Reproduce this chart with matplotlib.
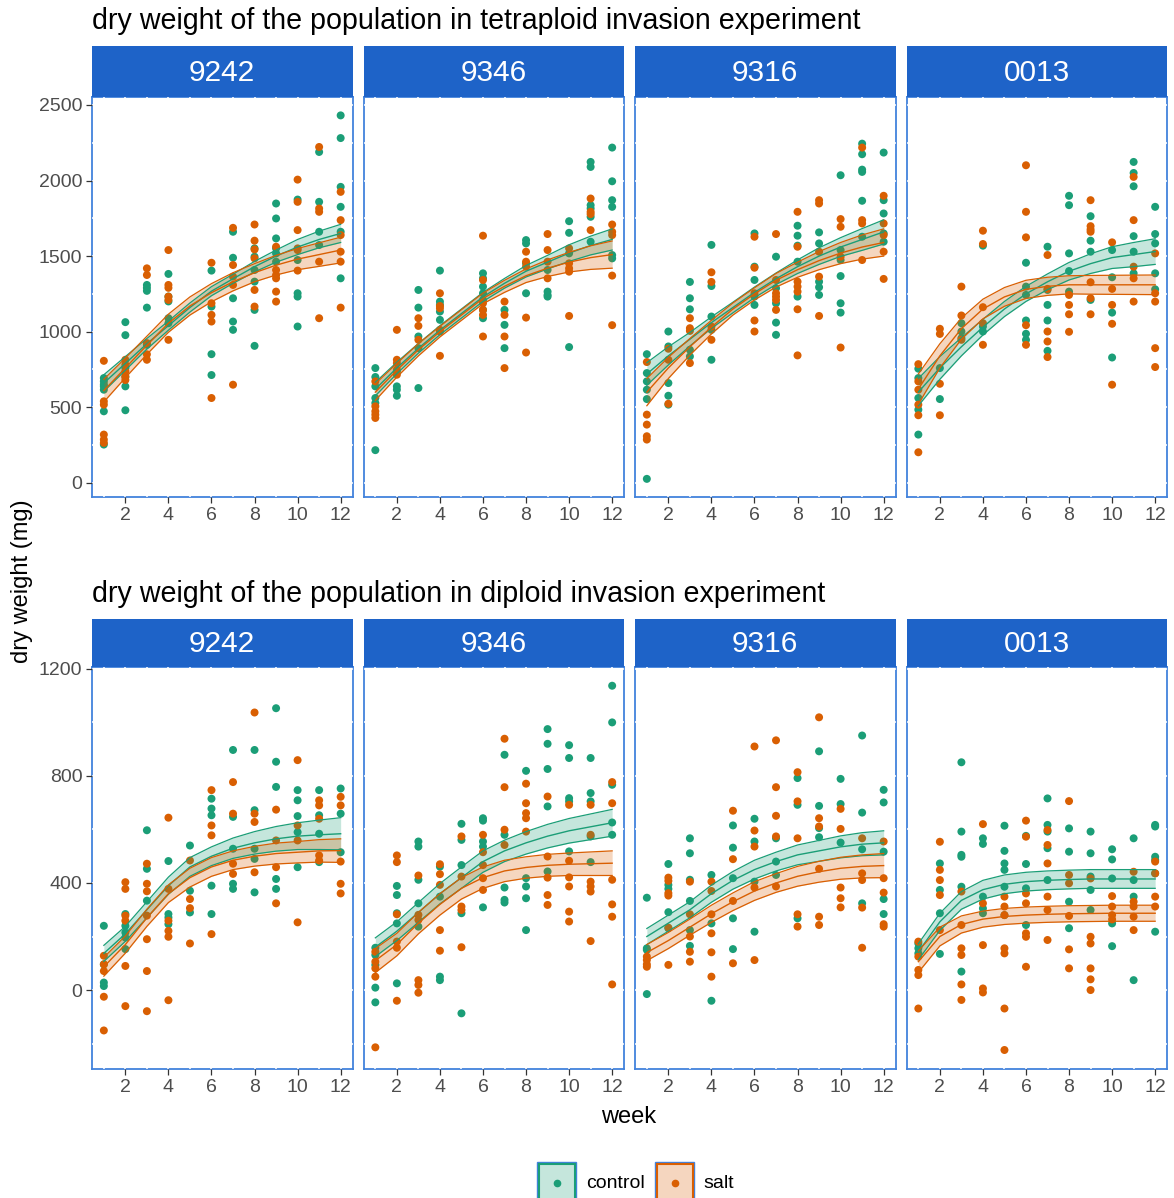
import matplotlib
matplotlib.use('Agg')
import matplotlib.pyplot as plt
from matplotlib.patches import Rectangle
from matplotlib.lines import Line2D
from matplotlib.ticker import FixedLocator

W, H = 1174, 1198
plt.rcParams['font.family'] = ['Liberation Sans', 'DejaVu Sans']

# ---------------- data ----------------
weeks = list(range(1, 13))
genotypes = ['9242', '9346', '9316', '0013']
treatments = ['control', 'salt']
row_titles = ['dry weight of the population in tetraploid invasion experiment',
              'dry weight of the population in diploid invasion experiment']
top_yticks = [0, 500, 1000, 1500, 2000, 2500]
top_yminor = [250, 750, 1250, 1750, 2250]
bot_yticks = [0, 400, 800, 1200]
bot_yminor = [-200, 200, 600, 1000]
xticks = [2, 4, 6, 8, 10, 12]
xminor = [1, 3, 5, 7, 9, 11]

# observed points: one list per week (1..12)
tet_9242_control = [[693, 671, 650, 638, 616, 473, 253], [1063, 977, 760, 700, 638, 480],
                    [1309, 1290, 1270, 1159, 913], [1382, 1232, 1200, 1089, 1056], [],
                    [1404, 1166, 851, 713], [1661, 1489, 1221, 1067, 1012],
                    [1551, 1496, 1408, 1331, 1144, 906], [1848, 1749, 1617, 1551, 1518, 1463],
                    [1874, 1474, 1254, 1232, 1034], [2189, 1859, 1661, 1573],
                    [2431, 2281, 1958, 1826, 1661, 1353]]
tet_9242_salt = [[807, 539, 517, 319, 286, 264], [814, 781, 737, 704, 680],
                 [1419, 1375, 924, 850, 814], [1540, 1309, 1290, 1232, 1210, 946], [],
                 [1456, 1188, 1111, 1067, 561], [1687, 1441, 1364, 1309, 649],
                 [1709, 1602, 1544, 1485, 1276, 1166], [1562, 1408, 1375, 1353, 1265, 1199],
                 [2006, 1859, 1672, 1551, 1540, 1404], [2222, 1815, 1793, 1463, 1089],
                 [1925, 1738, 1639, 1529, 1463, 1159]]
tet_9346_control = [[759, 700, 638, 561, 528, 216], [737, 638, 616, 576],
                    [1276, 1159, 968, 891, 627], [1404, 1199, 1177, 1133, 1078], [],
                    [1386, 1353, 1298, 1254, 1210, 1144, 1089], [1144, 1045, 891],
                    [1606, 1584, 1452, 1254], [1408, 1265, 1243, 1232],
                    [1731, 1654, 1518, 898], [2123, 2090, 1837, 1815, 1760, 1595],
                    [2218, 1995, 1870, 1826, 1507, 1485]]
tet_9346_salt = [[671, 506, 473, 451, 429], [1012, 814, 792, 748, 715],
                 [1089, 1038, 946], [1254, 1170, 1155, 1012, 1001, 840], [],
                 [1635, 1342, 1188, 1144, 1111, 968], [1199, 1111, 968, 759],
                 [1529, 1463, 1430, 1093, 862], [1646, 1540, 1463, 1353],
                 [1551, 1452, 1419, 1397, 1104], [1881, 1793, 1778, 1672],
                 [1709, 1661, 1639, 1371, 1043]]
tet_9316_control = [[851, 726, 671, 616, 554, 26], [1001, 902, 660, 576, 517],
                    [1329, 1221, 1148, 880, 836], [1574, 1302, 1100, 1012, 814], [],
                    [1650, 1430, 1342, 1232, 1177], [1496, 1287, 1188, 1060, 979],
                    [1701, 1635, 1569, 1463, 1232], [1657, 1584, 1331, 1294, 1243],
                    [2035, 1540, 1474, 1368, 1188, 1126], [2244, 2174, 2072, 2057, 1866, 1628],
                    [2185, 1870, 1782, 1650, 1595]]
tet_9316_salt = [[799, 451, 385, 308, 286], [887, 814, 523],
                 [1089, 1023, 1005, 792], [1393, 1329, 1034, 946], [],
                 [1628, 1423, 1254, 1074, 1001], [1646, 1342, 1254, 1232, 1210, 1144],
                 [1793, 1562, 1331, 1298, 1265, 1148, 843], [1870, 1848, 1529, 1364, 1104],
                 [1745, 1694, 1496, 895], [2218, 1738, 1716, 1474],
                 [1899, 1716, 1639, 1529, 1349]]
tet_0013_control = [[755, 693, 561, 484, 319], [759, 554],
                    [1056, 1001, 957], [1569, 1034, 1001], [],
                    [1456, 1298, 1243, 1074, 986, 946], [1562, 1276, 1177, 1074, 873],
                    [1899, 1837, 1518, 1401, 1265], [1764, 1602, 1529, 1210],
                    [1540, 1360, 1126, 829], [2123, 2050, 1962, 1632, 1529, 1386],
                    [1826, 1646, 1584, 1386, 1280]]
tet_0013_salt = [[785, 671, 616, 517, 447, 202], [1019, 985, 655, 447],
                 [1298, 1107, 946], [1668, 1580, 1162, 1056, 913], [],
                 [2101, 1793, 1624, 1043, 913], [1507, 1283, 1001, 935, 832],
                 [1243, 1177, 1115, 999], [1870, 1698, 1676, 1661, 1327, 1221, 1115],
                 [1591, 1283, 1177, 1052, 649], [2024, 1738, 1430, 1353, 1199],
                 [1518, 1254, 1199, 891, 766]]

dip_9242_control = [[240, 96, 28, 15], [284, 240, 215, 196, 153], [597, 453, 334],
                    [482, 284, 271, 246], [540, 371, 290], [715, 678, 653, 390, 284],
                    [897, 647, 528, 397, 378], [897, 672, 528, 490, 365],
                    [1053, 853, 759, 415, 378], [747, 709, 650, 590, 459],
                    [747, 653, 584, 478], [753, 659, 515]]
dip_9242_salt = [[128, 96, 71, -25, -151], [403, 378, 278, 259, 90, -60],
                 [472, 397, 369, 278, 190, 71, -79], [644, 378, 259, 221, 199, -38],
                 [484, 340, 306, 174], [747, 615, 578, 209], [777, 659, 472, 434],
                 [1037, 659, 628, 440], [674, 559, 459, 324], [859, 615, 559, 253],
                 [709, 690, 640, 503, 484], [722, 690, 480, 397, 361]]
dip_9346_control = [[158, 131, 94, 9, -46], [389, 355, 287, 249, 25],
                    [555, 536, 412, 324, 237], [461, 349, 50, 37],
                    [621, 561, 467, 287, -87], [642, 633, 555, 536, 309],
                    [879, 580, 383, 337, 327], [819, 418, 387, 343, 224],
                    [975, 920, 826, 686, 443], [915, 867, 717, 705, 518],
                    [867, 736, 705, 574, 478], [1137, 1000, 767, 626, 580]]
dip_9346_salt = [[143, 106, 81, 50, -214], [503, 478, 283, 181, 158, -40],
                 [428, 281, 262, 37, 19, -10], [470, 433, 393, 224, 147],
                 [574, 424, 312, 299, 160], [580, 515, 467, 418, 374],
                 [939, 758, 599, 542], [771, 698, 661, 642, 592],
                 [723, 499, 420, 355, 318], [692, 483, 421, 387, 293, 256],
                 [692, 580, 405, 387, 368, 183], [777, 698, 412, 320, 274, 21]]
dip_9316_control = [[345, 156, 150, -15], [471, 393, 378, 291, 231],
                    [567, 511, 412, 333, 224, 165], [430, 249, -40],
                    [615, 532, 418, 268, 153], [640, 555, 405, 218],
                    [567, 480, 430], [792, 692, 268], [892, 688, 605, 571],
                    [789, 695, 551], [951, 663, 526, 324], [748, 701, 517, 340, 284]]
dip_9316_salt = [[125, 112, 96, 87], [420, 408, 362, 353, 233, 94],
                 [405, 283, 200, 143, 106], [405, 370, 283, 212, 141, 50],
                 [670, 489, 333, 100], [910, 596, 536, 383, 112],
                 [933, 758, 651, 574, 387], [814, 705, 567, 283, 237],
                 [1019, 642, 611, 453, 274, 243], [677, 602, 383, 343, 309],
                 [567, 436, 411, 308, 158], [555, 418, 364, 246, 237]]
dip_0013_control = [[174, 156, 137], [473, 374, 287, 135],
                    [851, 592, 505, 498, 386, 69], [567, 546, 349, 305, 287],
                    [614, 520, 473, 449, 386, 280], [576, 471, 380, 243],
                    [716, 617, 592, 530, 411], [604, 517, 330, 231],
                    [592, 511, 424, 374, 299], [526, 488, 417, 249, 164],
                    [567, 411, 349, 37], [617, 611, 498, 486, 436, 218]]
dip_0013_salt = [[181, 125, 75, 56, -69], [554, 449, 411, 355, 224],
                 [368, 243, 156, 131, 21, -37], [620, 324, 168, 6, -9],
                 [349, 312, 280, 156, 137, -69, -224], [633, 573, 361, 324, 212, 199, 87],
                 [598, 542, 473, 349, 299, 187], [706, 430, 399, 277, 152, 81],
                 [417, 199, 174, 81, 40, 0], [351, 312, 280, 264],
                 [442, 330, 312, 274, 224], [480, 436, 349, 312]]

# fitted curves (value at each week) and confidence half-widths
tet_9242_control_fit = [660, 790, 920, 1040, 1160, 1268, 1350, 1430, 1500, 1560, 1610, 1650]
tet_9242_control_hw = [55, 45, 35, 30, 30, 30, 30, 35, 40, 50, 55, 60]
tet_9242_salt_fit = [610, 760, 910, 1056, 1170, 1258, 1330, 1390, 1440, 1480, 1510, 1540]
tet_9242_salt_hw = [75, 65, 60, 60, 60, 60, 60, 60, 65, 70, 78, 85]
tet_9346_control_fit = [620, 760, 890, 1010, 1120, 1230, 1320, 1400, 1460, 1520, 1570, 1610]
tet_9346_control_hw = [45, 38, 32, 30, 30, 30, 32, 38, 45, 55, 62, 70]
tet_9346_salt_fit = [600, 745, 880, 1000, 1110, 1220, 1300, 1370, 1420, 1460, 1490, 1510]
tet_9346_salt_hw = [55, 45, 40, 35, 35, 35, 40, 45, 55, 65, 78, 90]
tet_9316_control_fit = [720, 840, 950, 1060, 1160, 1260, 1350, 1430, 1500, 1560, 1610, 1660]
tet_9316_control_hw = [75, 60, 45, 38, 35, 35, 38, 45, 55, 62, 72, 80]
tet_9316_salt_fit = [600, 760, 900, 1030, 1150, 1250, 1340, 1410, 1470, 1520, 1560, 1590]
tet_9316_salt_hw = [90, 70, 55, 45, 40, 40, 45, 50, 60, 70, 80, 90]
tet_0013_control_fit = [600, 760, 900, 1030, 1150, 1250, 1330, 1400, 1450, 1490, 1510, 1530]
tet_0013_control_hw = [90, 75, 60, 52, 50, 50, 52, 58, 65, 72, 80, 85]
tet_0013_salt_fit = [620, 840, 1020, 1150, 1230, 1280, 1300, 1310, 1310, 1310, 1310, 1310]
tet_0013_salt_hw = [100, 80, 70, 65, 62, 60, 60, 60, 62, 63, 64, 65]

dip_9242_control_fit = [137, 210, 300, 390, 460, 500, 530, 550, 565, 575, 580, 584]
dip_9242_control_hw = [30, 28, 30, 32, 35, 35, 38, 42, 46, 50, 55, 60]
dip_9242_salt_fit = [87, 170, 270, 360, 420, 460, 485, 500, 510, 515, 520, 521]
dip_9242_salt_hw = [35, 32, 32, 33, 35, 35, 35, 37, 39, 40, 42, 44]
dip_9346_control_fit = [160, 220, 290, 360, 420, 480, 520, 550, 575, 595, 610, 625]
dip_9346_control_hw = [35, 35, 37, 38, 40, 40, 40, 42, 44, 46, 48, 50]
dip_9346_salt_fit = [110, 170, 250, 320, 380, 420, 445, 458, 466, 470, 472, 474]
dip_9346_salt_hw = [45, 42, 40, 40, 40, 40, 40, 40, 41, 42, 44, 46]
dip_9316_control_fit = [200, 250, 300, 360, 410, 450, 480, 505, 520, 535, 545, 550]
dip_9316_control_hw = [30, 30, 30, 32, 33, 35, 35, 37, 39, 41, 43, 45]
dip_9316_salt_fit = [140, 185, 235, 285, 330, 370, 400, 425, 442, 455, 462, 465]
dip_9316_salt_hw = [30, 30, 30, 32, 33, 35, 35, 37, 39, 41, 43, 45]
dip_0013_control_fit = [143, 255, 335, 375, 395, 405, 410, 413, 415, 415, 415, 415]
dip_0013_control_hw = [30, 32, 33, 35, 35, 35, 35, 35, 35, 35, 35, 35]
dip_0013_salt_fit = [106, 200, 245, 265, 275, 280, 283, 285, 286, 287, 287, 287]
dip_0013_salt_hw = [40, 35, 32, 30, 30, 30, 30, 30, 30, 30, 30, 30]

points = {
    ('tet', '9242', 'control'): tet_9242_control, ('tet', '9242', 'salt'): tet_9242_salt,
    ('tet', '9346', 'control'): tet_9346_control, ('tet', '9346', 'salt'): tet_9346_salt,
    ('tet', '9316', 'control'): tet_9316_control, ('tet', '9316', 'salt'): tet_9316_salt,
    ('tet', '0013', 'control'): tet_0013_control, ('tet', '0013', 'salt'): tet_0013_salt,
    ('dip', '9242', 'control'): dip_9242_control, ('dip', '9242', 'salt'): dip_9242_salt,
    ('dip', '9346', 'control'): dip_9346_control, ('dip', '9346', 'salt'): dip_9346_salt,
    ('dip', '9316', 'control'): dip_9316_control, ('dip', '9316', 'salt'): dip_9316_salt,
    ('dip', '0013', 'control'): dip_0013_control, ('dip', '0013', 'salt'): dip_0013_salt,
}
fits = {
    ('tet', '9242', 'control'): (tet_9242_control_fit, tet_9242_control_hw),
    ('tet', '9242', 'salt'): (tet_9242_salt_fit, tet_9242_salt_hw),
    ('tet', '9346', 'control'): (tet_9346_control_fit, tet_9346_control_hw),
    ('tet', '9346', 'salt'): (tet_9346_salt_fit, tet_9346_salt_hw),
    ('tet', '9316', 'control'): (tet_9316_control_fit, tet_9316_control_hw),
    ('tet', '9316', 'salt'): (tet_9316_salt_fit, tet_9316_salt_hw),
    ('tet', '0013', 'control'): (tet_0013_control_fit, tet_0013_control_hw),
    ('tet', '0013', 'salt'): (tet_0013_salt_fit, tet_0013_salt_hw),
    ('dip', '9242', 'control'): (dip_9242_control_fit, dip_9242_control_hw),
    ('dip', '9242', 'salt'): (dip_9242_salt_fit, dip_9242_salt_hw),
    ('dip', '9346', 'control'): (dip_9346_control_fit, dip_9346_control_hw),
    ('dip', '9346', 'salt'): (dip_9346_salt_fit, dip_9346_salt_hw),
    ('dip', '9316', 'control'): (dip_9316_control_fit, dip_9316_control_hw),
    ('dip', '9316', 'salt'): (dip_9316_salt_fit, dip_9316_salt_hw),
    ('dip', '0013', 'control'): (dip_0013_control_fit, dip_0013_control_hw),
    ('dip', '0013', 'salt'): (dip_0013_salt_fit, dip_0013_salt_hw),
}

# ---------------- style ----------------
colors = {'control': '#1B9E77', 'salt': '#D95F02'}
strip_color = '#1E63C8'
border_color = '#4282DC'
tick_label_color = '#4D4D4D'


def rect(x, y, w, h):
    return [x / W, 1 - (y + h) / H, w / W, h / H]


fig = plt.figure(figsize=(W / 100, H / 100), dpi=100)
fig.patch.set_facecolor('white')

panel_x = [92, 363.5, 635, 906.5]
panel_w = 260.5
rows = [
    dict(key='tet', ax_y=96.5, ax_h=400.5, strip_y=45.5, title_y=21,
         ylim=(-94, 2556), yt=top_yticks, ym=top_yminor),
    dict(key='dip', ax_y=667, ax_h=402, strip_y=618.5, title_y=594,
         ylim=(-295, 1207), yt=bot_yticks, ym=bot_yminor),
]

for ri, row in enumerate(rows):
    fig.text(92 / W, 1 - row['title_y'] / H, row_titles[ri], ha='left', va='center',
             fontsize=20.6, color='black')
    for gi, g in enumerate(genotypes):
        ax = fig.add_axes(rect(panel_x[gi], row['ax_y'], panel_w, row['ax_h']))
        ax.set_xlim(0.45, 12.55)
        ax.set_ylim(*row['ylim'])
        ax.xaxis.set_major_locator(FixedLocator(xticks))
        ax.xaxis.set_minor_locator(FixedLocator(xminor))
        ax.yaxis.set_major_locator(FixedLocator(row['yt']))
        ax.yaxis.set_minor_locator(FixedLocator(row['ym']))
        ax.set_axisbelow(True)
        ax.grid(True, which='both', color='white', lw=1.1)
        for sp in ax.spines.values():
            sp.set_color(border_color)
            sp.set_linewidth(1.3)
            sp.set_zorder(0.4)
        ax.tick_params(which='major', length=4, width=0.9, color='#333333',
                       labelsize=14, labelcolor=tick_label_color, pad=3)
        ax.tick_params(which='minor', length=0)
        if gi > 0:
            ax.tick_params(axis='y', which='both', left=False, labelleft=False)

        # points
        for t in treatments:
            vals = points[(row['key'], g, t)]
            xs, ys = [], []
            for wk, vs in zip(weeks, vals):
                xs.extend([wk] * len(vs))
                ys.extend(vs)
            ax.scatter(xs, ys, s=33, color=colors[t], edgecolors='none', zorder=2)
        # fitted curves with ribbons
        for t in treatments:
            fit, hw = fits[(row['key'], g, t)]
            lo = [f - h for f, h in zip(fit, hw)]
            hi = [f + h for f, h in zip(fit, hw)]
            ax.fill_between(weeks, lo, hi, color=colors[t], alpha=0.25, lw=0, zorder=3)
            ax.plot(weeks, lo, color=colors[t], lw=0.9, zorder=4)
            ax.plot(weeks, hi, color=colors[t], lw=0.9, zorder=4)
            ax.plot(weeks, fit, color=colors[t], lw=1.0, zorder=4)

        # strip
        sax = fig.add_axes(rect(panel_x[gi], row['strip_y'], panel_w, row['ax_y'] - row['strip_y']))
        sax.set_facecolor(strip_color)
        sax.set_xticks([])
        sax.set_yticks([])
        for sp in sax.spines.values():
            sp.set_visible(False)
        sax.text(0.5, 0.47, g, ha='center', va='center', color='white', fontsize=21.5,
                 transform=sax.transAxes)

# axis labels
fig.text(629 / W, 1 - 1117 / H, 'week', ha='center', va='center', fontsize=17)
fig.text(22 / W, 1 - 581 / H, 'dry weight (mg)', ha='center', va='center',
         fontsize=17, rotation=90)

# legend
legend_items = [('control', 538, 586), ('salt', 656, 703)]
for t, kx, tx in legend_items:
    outer = Rectangle(((kx - 1) / W, 1 - 1204 / H), 39 / W, 42 / H, transform=fig.transFigure,
                      facecolor='none', edgecolor=border_color, lw=1.0, zorder=5)
    inner = Rectangle(((kx + 0.5) / W, 1 - 1202.5 / H), 36 / W, 39 / H, transform=fig.transFigure,
                      facecolor=colors[t], alpha=0.25, edgecolor='none', zorder=5)
    edge = Rectangle(((kx + 0.5) / W, 1 - 1202.5 / H), 36 / W, 39 / H, transform=fig.transFigure,
                     facecolor='none', edgecolor=colors[t], lw=1.5, zorder=6)
    fig.patches.extend([outer, inner, edge])
    fig.lines.append(Line2D([(kx + 18.5) / W], [1 - 1183 / H], transform=fig.transFigure,
                            marker='o', markersize=4.5, color=colors[t], lw=0, zorder=7))
    fig.text(tx / W, 1 - 1184 / H, t, ha='left', va='center', fontsize=14, color='black')

fig.savefig('out.png', dpi=100, facecolor='white')
